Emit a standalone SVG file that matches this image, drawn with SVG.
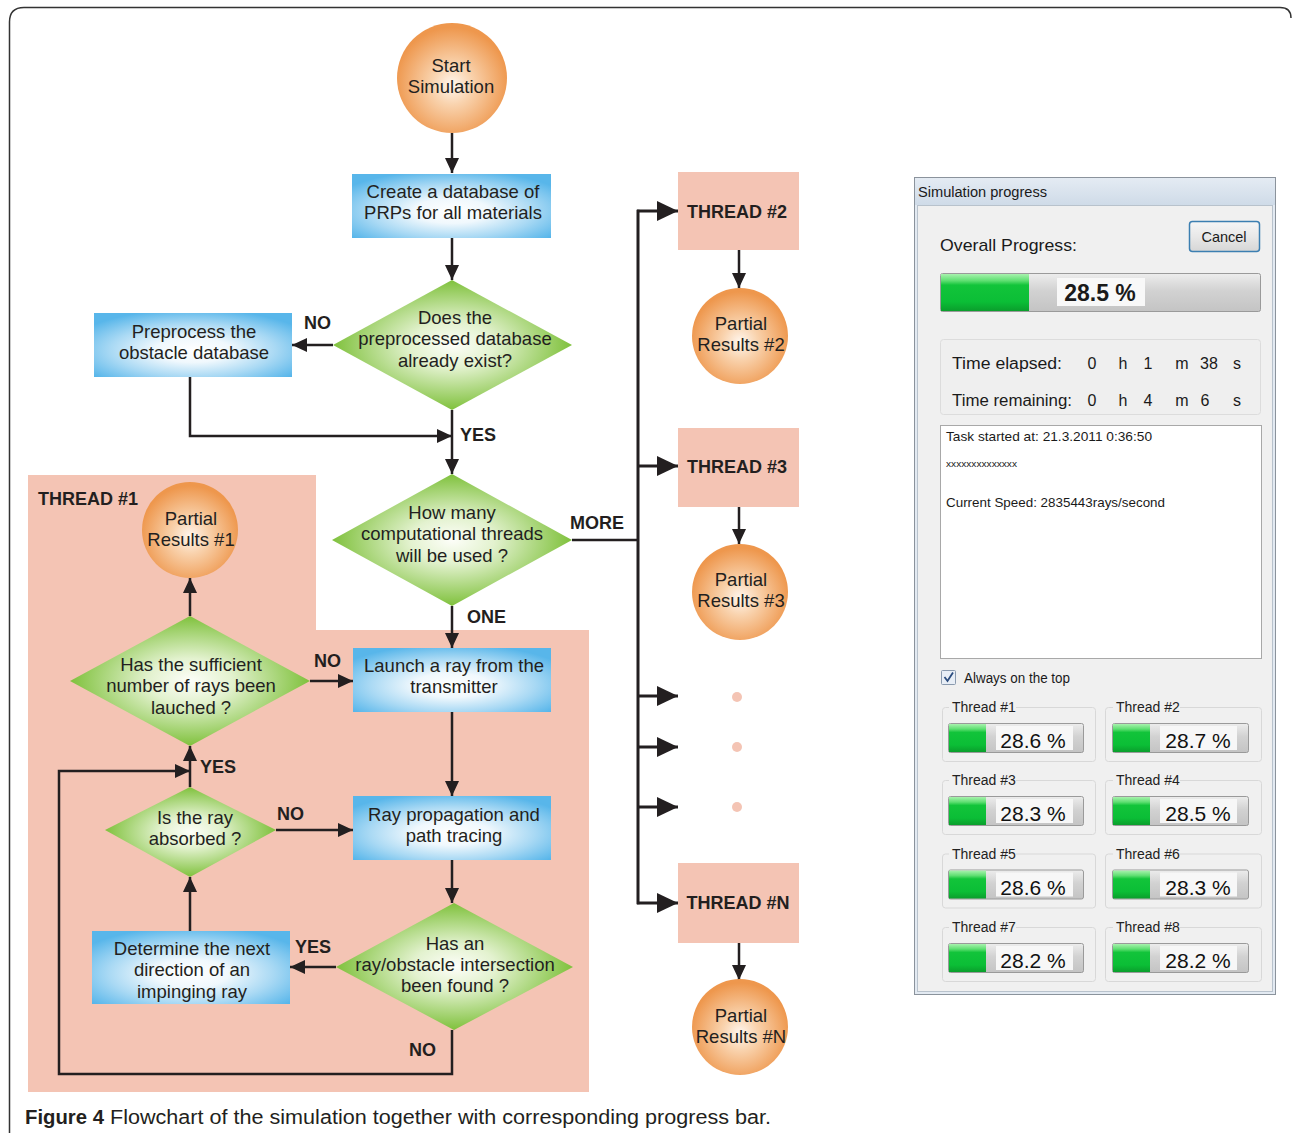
<svg xmlns="http://www.w3.org/2000/svg" width="1292" height="1133" viewBox="0 0 1292 1133">
<defs>
<style>
.ln{fill:none;stroke:#231F20;stroke-width:2.5}
.t{font-family:"Liberation Sans",Arial,sans-serif;font-size:18.5px;fill:#231F20;text-anchor:middle}
.b{font-weight:bold}
.lb{font-family:"Liberation Sans",Arial,sans-serif;font-size:18px;font-weight:bold;fill:#231F20}
.w{font-family:"Liberation Sans",Arial,sans-serif;fill:#1A1A1A}
.box{fill:url(#blue)}
.dia{fill:url(#green)}
.circ{fill:url(#orange)}
.thr{fill:#F4C4B4}
.gb{fill:none;stroke:#D8D8D8;stroke-width:1}
.trk{fill:url(#track);stroke:#9A9A9A;stroke-width:1}
.gbar{fill:url(#gbar)}
.lbl{fill:#F7F7F7}
</style>
<radialGradient id="blue" cx="50%" cy="58%" r="64%">
<stop offset="0" stop-color="#FFFFFF"/><stop offset="0.3" stop-color="#F0F8FD"/><stop offset="0.65" stop-color="#A9D9F4"/><stop offset="1" stop-color="#58B6EA"/>
</radialGradient>
<radialGradient id="green" cx="50%" cy="50%" r="50%">
<stop offset="0" stop-color="#FDFEF9"/><stop offset="0.35" stop-color="#E3F2CF"/><stop offset="1" stop-color="#7FC13C"/>
</radialGradient>
<radialGradient id="orange" cx="50%" cy="56%" r="52%">
<stop offset="0" stop-color="#FFF6EE"/><stop offset="0.35" stop-color="#F9D3AE"/><stop offset="1" stop-color="#EE974D"/>
</radialGradient>
<linearGradient id="track" x1="0" y1="0" x2="0" y2="1">
<stop offset="0" stop-color="#EDEDED"/><stop offset="0.45" stop-color="#D2D2D2"/><stop offset="1" stop-color="#C4C4C4"/>
</linearGradient>
<linearGradient id="gbar" x1="0" y1="0" x2="0" y2="1">
<stop offset="0" stop-color="#A8F2AE"/><stop offset="0.18" stop-color="#5FDF72"/><stop offset="0.3" stop-color="#12C43A"/><stop offset="0.75" stop-color="#0BBE36"/><stop offset="1" stop-color="#0A9E2C"/>
</linearGradient>
<linearGradient id="title" x1="0" y1="0" x2="0" y2="1">
<stop offset="0" stop-color="#E4EBF3"/><stop offset="1" stop-color="#CFDBE8"/>
</linearGradient>
<linearGradient id="btn" x1="0" y1="0" x2="0" y2="1">
<stop offset="0" stop-color="#F6F6F6"/><stop offset="0.5" stop-color="#E8E8E8"/><stop offset="1" stop-color="#D6D6D6"/>
</linearGradient>
<marker id="a" markerUnits="userSpaceOnUse" markerWidth="15" markerHeight="14" refX="15" refY="7" orient="auto">
<path d="M0,0 L15,7 L0,14 z" fill="#231F20"/>
</marker>
<marker id="big" markerUnits="userSpaceOnUse" markerWidth="21" markerHeight="20" refX="21" refY="10" orient="auto">
<path d="M0,0 L21,10 L0,20 z" fill="#231F20"/>
</marker>
</defs>

<rect x="0" y="0" width="1292" height="1133" fill="#FFFFFF"/>
<path d="M9.5,1133 V22 Q9.5,7.5 24,7.5 H1280 Q1291,7.5 1291,18" fill="none" stroke="#333" stroke-width="1.5"/>

<!-- salmon region of thread #1 -->
<polygon id="thread1-area" points="28,475 316,475 316,630 589,630 589,1092 28,1092" fill="#F4C4B4"/>

<!-- connectors -->
<g id="connectors">
<path class="ln" d="M452,133 V173" marker-end="url(#a)"/>
<path class="ln" d="M452,238 V280" marker-end="url(#a)"/>
<path class="ln" d="M333,345 H292" marker-end="url(#a)"/>
<path class="ln" d="M190,377 V436 H452" marker-end="url(#a)"/>
<path class="ln" d="M452,410 V474" marker-end="url(#a)"/>
<path class="ln" d="M572,540 H638"/>
<path class="ln" d="M638,209.8 V904.2" style="stroke-width:3"/>
<path class="ln" d="M637,211 H678" style="stroke-width:3" marker-end="url(#big)"/>
<path class="ln" d="M637,466 H678" style="stroke-width:3" marker-end="url(#big)"/>
<path class="ln" d="M637,696 H678" style="stroke-width:3" marker-end="url(#big)"/>
<path class="ln" d="M637,747 H678" style="stroke-width:3" marker-end="url(#big)"/>
<path class="ln" d="M637,807 H678" style="stroke-width:3" marker-end="url(#big)"/>
<path class="ln" d="M637,903 H678" style="stroke-width:3" marker-end="url(#big)"/>
<path class="ln" d="M739,250 V288" marker-end="url(#a)"/>
<path class="ln" d="M739,507 V544" marker-end="url(#a)"/>
<path class="ln" d="M739,943 V980" marker-end="url(#a)"/>
<path class="ln" d="M452,606 V648" marker-end="url(#a)"/>
<path class="ln" d="M310,681 H353" marker-end="url(#a)"/>
<path class="ln" d="M452,712 V796" marker-end="url(#a)"/>
<path class="ln" d="M276,830 H353" marker-end="url(#a)"/>
<path class="ln" d="M452,860 V903" marker-end="url(#a)"/>
<path class="ln" d="M336,967 H290" marker-end="url(#a)"/>
<path class="ln" d="M190,931 V877" marker-end="url(#a)"/>
<path class="ln" d="M190,787 V746" marker-end="url(#a)"/>
<path class="ln" d="M452,1030 V1074 H59 V771 H190" marker-end="url(#a)"/>
<path class="ln" d="M190,616 V578" marker-end="url(#a)"/>
<text class="lb" x="304" y="329">NO</text>
<text class="lb" x="460" y="441">YES</text>
<text class="lb" x="570" y="529">MORE</text>
<text class="lb" x="467" y="623">ONE</text>
<text class="lb" x="314" y="667">NO</text>
<text class="lb" x="200" y="773">YES</text>
<text class="lb" x="277" y="820">NO</text>
<text class="lb" x="295" y="953">YES</text>
<text class="lb" x="409" y="1056">NO</text>
</g>

<!-- nodes -->
<g id="start"><ellipse class="circ" cx="452" cy="78" rx="55" ry="55"/>
<text class="t" x="451"><tspan x="451" y="72">Start</tspan><tspan x="451" y="93">Simulation</tspan></text></g>
<g id="create"><rect class="box" x="352" y="174" width="199" height="64"/>
<text class="t" x="453"><tspan x="453" y="198">Create a database of</tspan><tspan x="453" y="219">PRPs for all materials</tspan></text></g>
<g id="exist"><polygon class="dia" points="452,280 572,345 452,410 333,345"/>
<text class="t"><tspan x="455" y="324">Does the</tspan><tspan x="455" y="345">preprocessed database</tspan><tspan x="455" y="367">already exist?</tspan></text></g>
<g id="preprocess"><rect class="box" x="94" y="313" width="198" height="64"/>
<text class="t"><tspan x="194" y="338">Preprocess the</tspan><tspan x="194" y="359">obstacle database</tspan></text></g>
<g id="howmany"><polygon class="dia" points="452,474 572,540 452,606 332,540"/>
<text class="t"><tspan x="452" y="519">How many</tspan><tspan x="452" y="540">computational threads</tspan><tspan x="452" y="562">will be used ?</tspan></text></g>
<g id="thread1-label"><text class="lb" x="38" y="505">THREAD #1</text></g>
<g id="partial1"><circle class="circ" cx="190" cy="530" r="48"/>
<text class="t"><tspan x="191" y="525">Partial</tspan><tspan x="191" y="546">Results #1</tspan></text></g>
<g id="sufficient"><polygon class="dia" points="190,616 310,681 190,746 70,681"/>
<text class="t"><tspan x="191" y="671">Has the sufficient</tspan><tspan x="191" y="692">number of rays been</tspan><tspan x="191" y="714">lauched ?</tspan></text></g>
<g id="launch"><rect class="box" x="353" y="648" width="198" height="64"/>
<text class="t"><tspan x="454" y="672">Launch a ray from the</tspan><tspan x="454" y="693">transmitter</tspan></text></g>
<g id="absorbed"><polygon class="dia" points="190,787 276,830 190,877 105,830"/>
<text class="t"><tspan x="195" y="824">Is the ray</tspan><tspan x="195" y="845">absorbed ?</tspan></text></g>
<g id="propagation"><rect class="box" x="353" y="796" width="198" height="64"/>
<text class="t"><tspan x="454" y="821">Ray propagation and</tspan><tspan x="454" y="842">path tracing</tspan></text></g>
<g id="intersection"><polygon class="dia" points="454,903 573,967 454,1030 336,967"/>
<text class="t"><tspan x="455" y="950">Has an</tspan><tspan x="455" y="971">ray/obstacle intersection</tspan><tspan x="455" y="992">been found ?</tspan></text></g>
<g id="determine"><rect class="box" x="92" y="931" width="198" height="73"/>
<text class="t"><tspan x="192" y="955">Determine the next</tspan><tspan x="192" y="976">direction of an</tspan><tspan x="192" y="998">impinging ray</tspan></text></g>

<g id="thread2"><rect class="thr" x="678" y="172" width="121" height="78"/><text class="lb" x="737" y="217.5" text-anchor="middle">THREAD #2</text></g>
<g id="partial2"><circle class="circ" cx="740" cy="336" r="48"/>
<text class="t"><tspan x="741" y="330">Partial</tspan><tspan x="741" y="351">Results #2</tspan></text></g>
<g id="thread3"><rect class="thr" x="678" y="428" width="121" height="79"/><text class="lb" x="737" y="472.5" text-anchor="middle">THREAD #3</text></g>
<g id="partial3"><circle class="circ" cx="740" cy="592" r="48"/>
<text class="t"><tspan x="741" y="586">Partial</tspan><tspan x="741" y="607">Results #3</tspan></text></g>
<g id="dots"><circle cx="737" cy="697" r="5" fill="#F4C4B4"/><circle cx="737" cy="747" r="5" fill="#F4C4B4"/><circle cx="737" cy="807" r="5" fill="#F4C4B4"/></g>
<g id="threadN"><rect class="thr" x="678" y="863" width="121" height="80"/><text class="lb" x="738" y="908.5" text-anchor="middle">THREAD #N</text></g>
<g id="partialN"><circle class="circ" cx="740" cy="1027" r="48"/>
<text class="t"><tspan x="741" y="1022">Partial</tspan><tspan x="741" y="1043">Results #N</tspan></text></g>

<!-- progress window -->
<g id="progress-window">
<rect x="914.5" y="177.5" width="361" height="817" fill="#E3EAF2" stroke="#8B939C"/>
<rect x="915" y="178" width="360" height="27" fill="url(#title)"/>
<rect x="917.5" y="205.5" width="355" height="786" fill="#F0F0F0" stroke="#B8C2CC"/>
<text class="w" x="918" y="197" font-size="14" fill="#555" textLength="129" lengthAdjust="spacingAndGlyphs">Simulation progress</text>
<rect x="1189.5" y="221.5" width="70" height="30" rx="3" fill="url(#btn)" stroke="#3C7FB1" stroke-width="1.5"/>
<text class="w" x="1224" y="242" font-size="14.5" text-anchor="middle">Cancel</text>
<text class="w" x="940" y="251" font-size="17" textLength="137" lengthAdjust="spacingAndGlyphs">Overall Progress:</text>
<rect x="940.5" y="273.5" width="320" height="38" rx="2" class="trk"/>
<rect x="941" y="274" width="88" height="37" class="gbar"/>
<rect x="1057" y="278" width="88" height="28" fill="#F8F8F8"/>
<text class="w" x="1100" y="301" font-size="23" font-weight="bold" text-anchor="middle" fill="#111">28.5 %</text>
<rect x="940.5" y="339.5" width="320" height="75" rx="3" fill="#EFEFEF" stroke="#DCDCDC"/>
<g class="w" font-size="16" fill="#222">
<text x="952" y="369" textLength="110" lengthAdjust="spacingAndGlyphs">Time elapsed:</text>
<text x="1092" y="369" text-anchor="middle">0</text><text x="1123" y="369" text-anchor="middle">h</text><text x="1148" y="369" text-anchor="middle">1</text><text x="1182" y="369" text-anchor="middle">m</text><text x="1209" y="369" text-anchor="middle">38</text><text x="1237" y="369" text-anchor="middle">s</text>
<text x="952" y="406" textLength="120" lengthAdjust="spacingAndGlyphs">Time remaining:</text>
<text x="1092" y="406" text-anchor="middle">0</text><text x="1123" y="406" text-anchor="middle">h</text><text x="1148" y="406" text-anchor="middle">4</text><text x="1182" y="406" text-anchor="middle">m</text><text x="1205" y="406" text-anchor="middle">6</text><text x="1237" y="406" text-anchor="middle">s</text>
</g>
<rect x="940.5" y="425.5" width="321" height="233" fill="#FFFFFF" stroke="#A8A8A8"/>
<text class="w" x="946" y="441" font-size="13.5" textLength="206" lengthAdjust="spacingAndGlyphs">Task started at: 21.3.2011 0:36:50</text>
<text class="w" x="946" y="467" font-size="9" fill="#666" textLength="71" lengthAdjust="spacingAndGlyphs">xxxxxxxxxxxxxx</text>
<text class="w" x="946" y="507" font-size="13.5" textLength="219" lengthAdjust="spacingAndGlyphs">Current Speed: 2835443rays/second</text>
<rect x="941.5" y="670.5" width="14" height="14" rx="1" fill="#E8EEF6" stroke="#8A9AAE"/>
<path d="M944.5,677 L947.5,681 L953,672.5" fill="none" stroke="#2B4C7E" stroke-width="1.8"/>
<text class="w" x="964" y="683" font-size="14" textLength="106" lengthAdjust="spacingAndGlyphs">Always on the top</text>
</g>

<g id="thread-bars" class="w">
<g id="tb1"><rect class="gb" x="942.5" y="707.5" width="153" height="54" rx="3"/><rect x="949" y="700" width="67" height="14" fill="#F0F0F0"/><text x="952" y="712" font-size="14" fill="#222">Thread #1</text>
<rect class="trk" x="948.5" y="723.5" width="135" height="29" rx="2"/><rect class="gbar" x="949" y="724" width="37" height="28"/><rect class="lbl" x="996" y="726" width="77" height="24"/><text x="1033" y="748" font-size="21" text-anchor="middle" fill="#111">28.6 %</text></g>
<g id="tb2"><rect class="gb" x="1105.5" y="707.5" width="156" height="54" rx="3"/><rect x="1113" y="700" width="67" height="14" fill="#F0F0F0"/><text x="1116" y="712" font-size="14" fill="#222">Thread #2</text>
<rect class="trk" x="1112.5" y="723.5" width="136" height="29" rx="2"/><rect class="gbar" x="1113" y="724" width="37" height="28"/><rect class="lbl" x="1160" y="726" width="77" height="24"/><text x="1198" y="748" font-size="21" text-anchor="middle" fill="#111">28.7 %</text></g>
<g id="tb3" transform="translate(0,73)"><rect class="gb" x="942.5" y="707.5" width="153" height="54" rx="3"/><rect x="949" y="700" width="67" height="14" fill="#F0F0F0"/><text x="952" y="712" font-size="14" fill="#222">Thread #3</text>
<rect class="trk" x="948.5" y="723.5" width="135" height="29" rx="2"/><rect class="gbar" x="949" y="724" width="37" height="28"/><rect class="lbl" x="996" y="726" width="77" height="24"/><text x="1033" y="748" font-size="21" text-anchor="middle" fill="#111">28.3 %</text></g>
<g id="tb4" transform="translate(0,73)"><rect class="gb" x="1105.5" y="707.5" width="156" height="54" rx="3"/><rect x="1113" y="700" width="67" height="14" fill="#F0F0F0"/><text x="1116" y="712" font-size="14" fill="#222">Thread #4</text>
<rect class="trk" x="1112.5" y="723.5" width="136" height="29" rx="2"/><rect class="gbar" x="1113" y="724" width="37" height="28"/><rect class="lbl" x="1160" y="726" width="77" height="24"/><text x="1198" y="748" font-size="21" text-anchor="middle" fill="#111">28.5 %</text></g>
<g id="tb5" transform="translate(0,146.5)"><rect class="gb" x="942.5" y="707.5" width="153" height="54" rx="3"/><rect x="949" y="700" width="67" height="14" fill="#F0F0F0"/><text x="952" y="712" font-size="14" fill="#222">Thread #5</text>
<rect class="trk" x="948.5" y="723.5" width="135" height="29" rx="2"/><rect class="gbar" x="949" y="724" width="37" height="28"/><rect class="lbl" x="996" y="726" width="77" height="24"/><text x="1033" y="748" font-size="21" text-anchor="middle" fill="#111">28.6 %</text></g>
<g id="tb6" transform="translate(0,146.5)"><rect class="gb" x="1105.5" y="707.5" width="156" height="54" rx="3"/><rect x="1113" y="700" width="67" height="14" fill="#F0F0F0"/><text x="1116" y="712" font-size="14" fill="#222">Thread #6</text>
<rect class="trk" x="1112.5" y="723.5" width="136" height="29" rx="2"/><rect class="gbar" x="1113" y="724" width="37" height="28"/><rect class="lbl" x="1160" y="726" width="77" height="24"/><text x="1198" y="748" font-size="21" text-anchor="middle" fill="#111">28.3 %</text></g>
<g id="tb7" transform="translate(0,220)"><rect class="gb" x="942.5" y="707.5" width="153" height="54" rx="3"/><rect x="949" y="700" width="67" height="14" fill="#F0F0F0"/><text x="952" y="712" font-size="14" fill="#222">Thread #7</text>
<rect class="trk" x="948.5" y="723.5" width="135" height="29" rx="2"/><rect class="gbar" x="949" y="724" width="37" height="28"/><rect class="lbl" x="996" y="726" width="77" height="24"/><text x="1033" y="748" font-size="21" text-anchor="middle" fill="#111">28.2 %</text></g>
<g id="tb8" transform="translate(0,220)"><rect class="gb" x="1105.5" y="707.5" width="156" height="54" rx="3"/><rect x="1113" y="700" width="67" height="14" fill="#F0F0F0"/><text x="1116" y="712" font-size="14" fill="#222">Thread #8</text>
<rect class="trk" x="1112.5" y="723.5" width="136" height="29" rx="2"/><rect class="gbar" x="1113" y="724" width="37" height="28"/><rect class="lbl" x="1160" y="726" width="77" height="24"/><text x="1198" y="748" font-size="21" text-anchor="middle" fill="#111">28.2 %</text></g>
</g>

<g id="caption" font-family="'Liberation Sans',Arial,sans-serif" font-size="19.5" fill="#231F20">
<text x="25" y="1124" font-weight="bold" textLength="79" lengthAdjust="spacingAndGlyphs">Figure 4</text>
<text x="110" y="1124" textLength="661" lengthAdjust="spacingAndGlyphs">Flowchart of the simulation together with corresponding progress bar.</text>
</g>
</svg>
